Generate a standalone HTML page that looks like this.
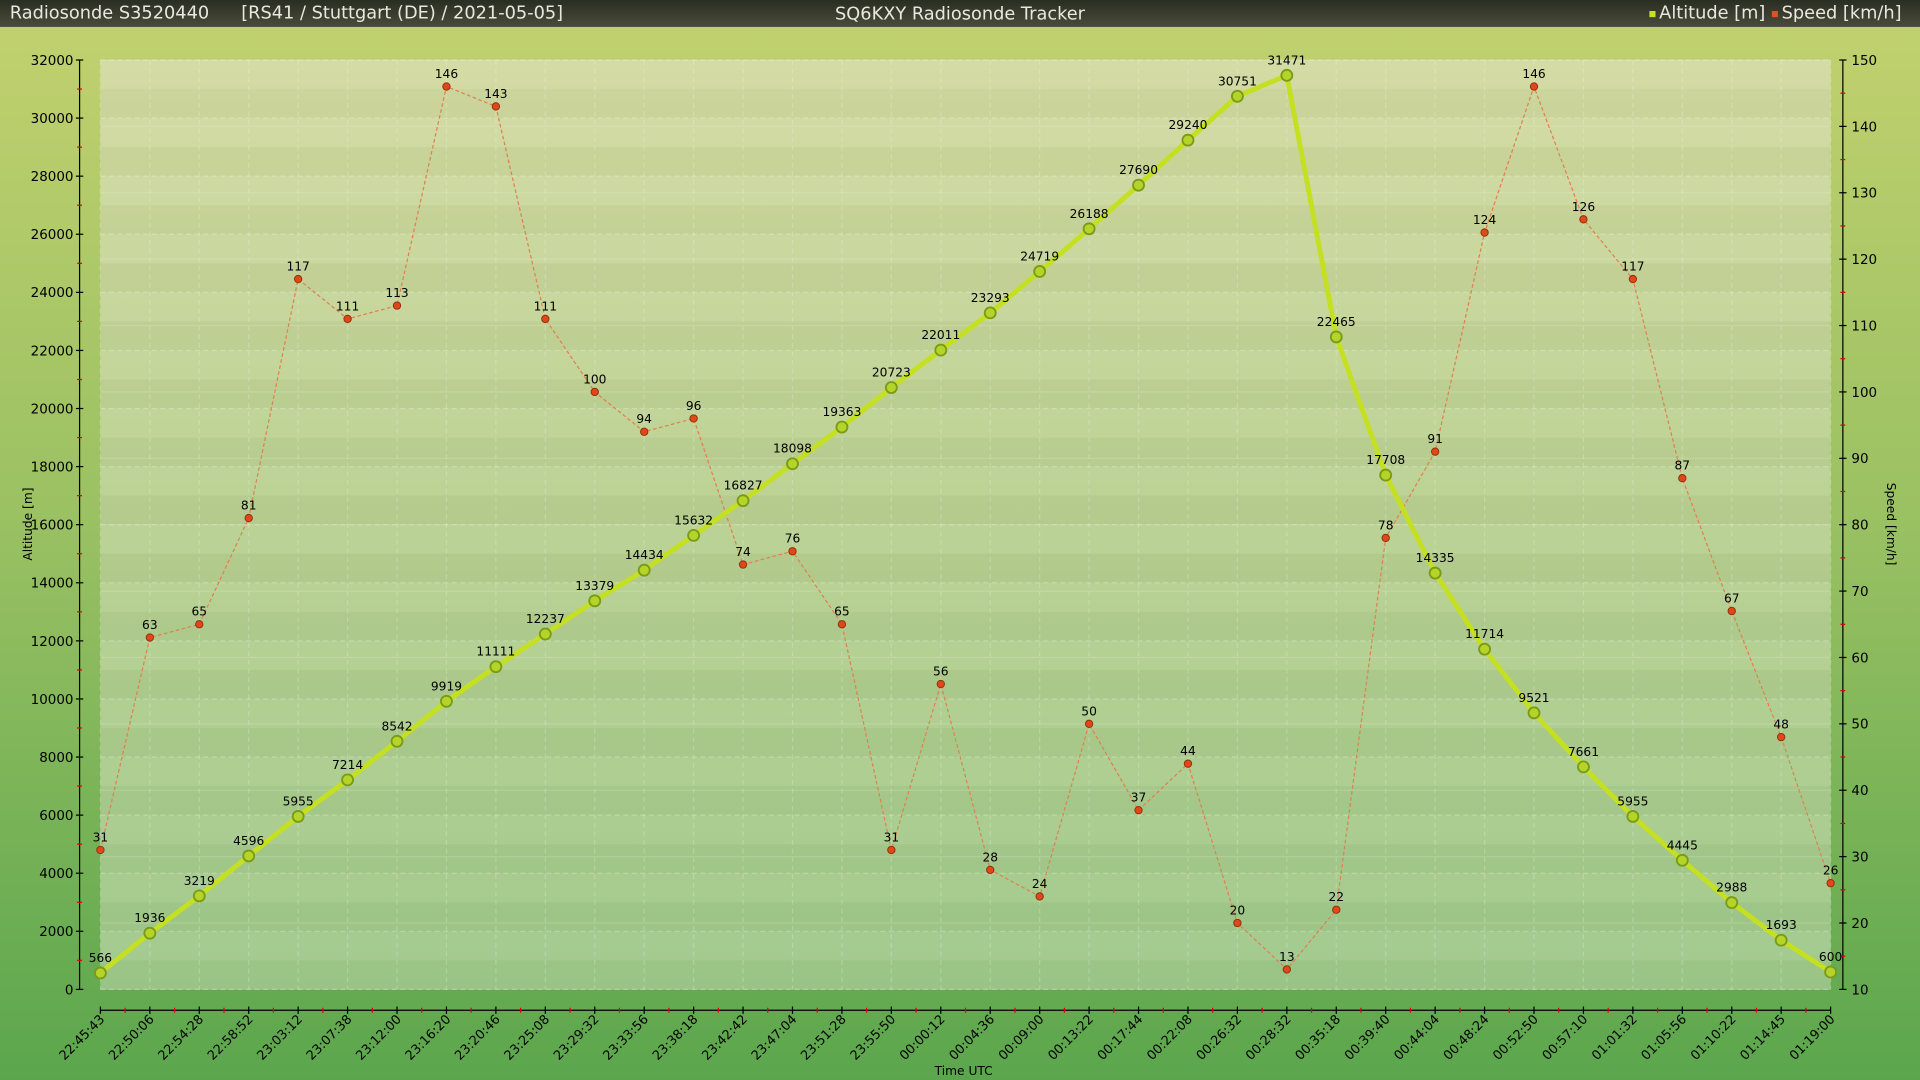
<!DOCTYPE html>
<html><head><meta charset="utf-8"><style>
html,body{margin:0;padding:0;width:1920px;height:1080px;overflow:hidden}
svg{display:block}
text{font-family:"DejaVu Sans","Liberation Sans",sans-serif}
</style></head><body>
<svg id="s" width="1920" height="1080" viewBox="0 0 1568 882" xmlns="http://www.w3.org/2000/svg">
<defs>
<linearGradient id="bg" x1="0" y1="0" x2="0" y2="1"><stop offset="0" stop-color="#c3d16f"/><stop offset="0.5" stop-color="#98c062"/><stop offset="1" stop-color="#5ba64d"/></linearGradient>
<linearGradient id="tb" x1="0" y1="0" x2="0" y2="1"><stop offset="0" stop-color="#2a2d22"/><stop offset="1" stop-color="#4a4c3a"/></linearGradient>
<linearGradient id="pa" x1="0" y1="0" x2="0" y2="1"><stop offset="0" stop-color="#d2daa0"/><stop offset="0.5" stop-color="#b8d090"/><stop offset="1" stop-color="#9ec88a"/></linearGradient>
</defs>
<rect width="1568" height="882" fill="url(#bg)"/>
<rect width="1568" height="22" fill="url(#tb)"/>
<text x="8" y="15" fill="#e8e8e0" font-size="14.5">Radiosonde S3520440</text>
<text x="197" y="15" fill="#e8e8e0" font-size="14.5">[RS41 / Stuttgart (DE) / 2021-05-05]</text>
<text x="784" y="16" fill="#e8e8e0" font-size="14.5" text-anchor="middle">SQ6KXY Radiosonde Tracker</text>
<rect x="1347" y="9" width="5" height="5" fill="#c8e020"/>
<text x="1355" y="15" fill="#e8e8e0" font-size="14.5">Altitude [m]</text>
<rect x="1447" y="9" width="5" height="5" fill="#e05020"/>
<text x="1455" y="15" fill="#e8e8e0" font-size="14.5">Speed [km/h]</text>
<rect x="82" y="49" width="1413" height="759" fill="url(#pa)"/>
<g id="g"></g>
</svg>
<script>
const NS="http://www.w3.org/2000/svg",g=document.getElementById('g');
function el(t,a,txt){const e=document.createElementNS(NS,t);for(const k in a)e.setAttribute(k,a[k]);if(txt!==undefined)e.textContent=txt;g.appendChild(e);return e;}
const X0=82,X1=1495,Y0=808,Y1=49;
const alt=[566,1936,3219,4596,5955,7214,8542,9919,11111,12237,13379,14434,15632,16827,18098,19363,20723,22011,23293,24719,26188,27690,29240,30751,31471,22465,17708,14335,11714,9521,7661,5955,4445,2988,1693,600];
const spd=[31,63,65,81,117,111,113,146,143,111,100,94,96,74,76,65,31,56,28,24,50,37,44,20,13,22,78,91,124,146,126,117,87,67,48,26];
const tm="22:45:43,22:50:06,22:54:28,22:58:52,23:03:12,23:07:38,23:12:00,23:16:20,23:20:46,23:25:08,23:29:32,23:33:56,23:38:18,23:42:42,23:47:04,23:51:28,23:55:50,00:00:12,00:04:36,00:09:00,00:13:22,00:17:44,00:22:08,00:26:32,00:28:32,00:35:18,00:39:40,00:44:04,00:48:24,00:52:50,00:57:10,01:01:32,01:05:56,01:10:22,01:14:45,01:19:00".split(',');
const n=36,dx=(X1-X0)/35;
const xa=i=>X0+i*dx, ya=v=>Y0-(v/32000)*(Y0-Y1), ys=v=>Y0-((v-10)/140)*(Y0-Y1);
// bands
for(let k=0;k<32;k++){const y=ya((k+1)*1000);el('rect',{x:X0,y:y,width:X1-X0,height:(Y0-Y1)/32,fill:k%2?'rgba(255,255,255,0.05)':'rgba(0,0,0,0.02)'});}
for(let k=0;k<=16;k++){const y=ya(k*2000);el('line',{x1:X0,x2:X1,y1:y,y2:y,stroke:'rgba(255,255,255,0.25)','stroke-dasharray':'4,3'});}
for(let k=0;k<=14;k++){const y=ys(10+k*10);el('line',{x1:X0,x2:X1,y1:y,y2:y,stroke:'rgba(255,255,255,0.15)'});}
for(let i=0;i<n;i++){el('line',{x1:xa(i),x2:xa(i),y1:Y1,y2:Y0,stroke:'rgba(255,255,255,0.2)','stroke-dasharray':'4,3'});}
// left axis
el('line',{x1:65,x2:65,y1:Y1,y2:Y0,stroke:'#000'});
for(let k=0;k<=16;k++){const y=ya(k*2000);el('line',{x1:62,x2:68,y1:y,y2:y,stroke:'#000'});el('text',{x:60,y:y+4,'font-size':11,'text-anchor':'end'},String(k*2000));
if(k<16){const y2=ya(k*2000+1000);el('line',{x1:63,x2:67,y1:y2,y2:y2,stroke:'#d00'});}}
el('text',{x:26,y:428,'font-size':10,'text-anchor':'middle',transform:'rotate(-90 26 428)'},'Altitude [m]');
// right axis
el('line',{x1:1505,x2:1505,y1:Y1,y2:Y0,stroke:'#000'});
for(let k=0;k<=14;k++){const y=ys(10+k*10);el('line',{x1:1502,x2:1508,y1:y,y2:y,stroke:'#000'});el('text',{x:1512,y:y+4,'font-size':11},String(10+k*10));
if(k<14){const y2=ys(15+k*10);el('line',{x1:1503,x2:1507,y1:y2,y2:y2,stroke:'#d00'});}}
el('text',{x:1541,y:428,'font-size':10,'text-anchor':'middle',transform:'rotate(90 1541 428)'},'Speed [km/h]');
// x axis
el('line',{x1:X0,x2:X1,y1:825,y2:825,stroke:'#000'});
for(let i=0;i<n;i++){const x=xa(i);el('line',{x1:x,x2:x,y1:822,y2:828,stroke:'#000'});
el('text',{x:x+4,y:833,'font-size':10.5,'text-anchor':'end',transform:`rotate(-45 ${x+4} 833)`},tm[i]);
if(i<n-1){const x2=x+dx/2;el('line',{x1:x2,x2:x2,y1:823,y2:827,stroke:'#d00'});}}
el('text',{x:787,y:878,'font-size':10,'text-anchor':'middle'},'Time UTC');
// speed
el('polyline',{points:spd.map((v,i)=>xa(i)+','+ys(v)).join(' '),fill:'none',stroke:'#e08050','stroke-width':1,'stroke-dasharray':'3,2'});
// altitude
el('polyline',{points:alt.map((v,i)=>xa(i)+','+ya(v)).join(' '),fill:'none',stroke:'#c4e020','stroke-width':4,'stroke-linejoin':'round'});
spd.forEach((v,i)=>{el('circle',{cx:xa(i),cy:ys(v),r:3,fill:'#e04818',stroke:'#903010','stroke-width':0.8});el('text',{x:xa(i),y:ys(v)-7,'font-size':10,'text-anchor':'middle'},String(v));});
alt.forEach((v,i)=>{el('circle',{cx:xa(i),cy:ya(v),r:4.5,fill:'#b4d428',stroke:'#7a9a18','stroke-width':1.5});el('text',{x:xa(i),y:ya(v)-9,'font-size':10,'text-anchor':'middle'},String(v));});
</script>
</body></html>
